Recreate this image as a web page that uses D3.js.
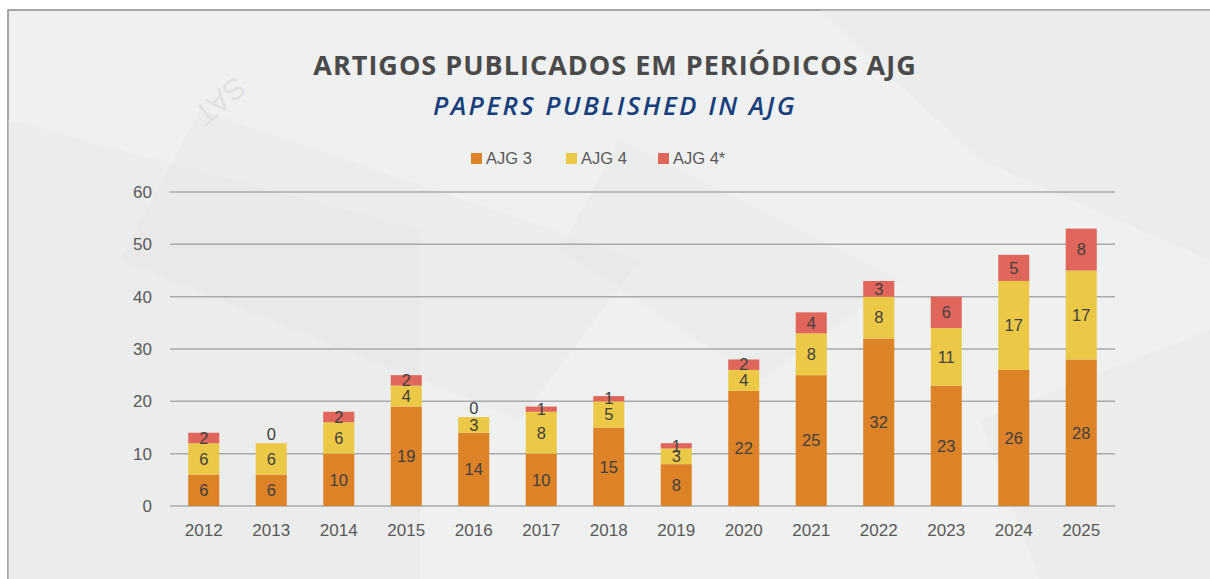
<!DOCTYPE html>
<html>
<head>
<meta charset="utf-8">
<script src="https://cdn.jsdelivr.net/npm/d3@7"></script>
<style>
  html, body { margin: 0; padding: 0; background: #fff; }
  svg { display: block; }
</style>
</head>
<body>
<div id="chart"></div>
<script>
// dados
const anos = ["2012","2013","2014","2015","2016","2017","2018","2019","2020","2021","2022","2023","2024","2025"];
const ajg3 = [6, 6, 10, 19, 14, 10, 15, 8, 22, 25, 32, 23, 26, 28];
const ajg4 = [6, 6, 6, 4, 3, 8, 5, 3, 4, 8, 8, 11, 17, 17];
const ajg4star = [2, 0, 2, 2, 0, 1, 1, 1, 2, 4, 3, 6, 5, 8];
const seriesNames = ["AJG 3", "AJG 4", "AJG 4*"];
const yTicks = [0, 10, 20, 30, 40, 50, 60];
const colors = ["#dd8227", "#ebc947", "#e0655a"];

const W = 1210, H = 579;
const FONT = "Liberation Sans, Arial, sans-serif";
const svg = d3.select("#chart").append("svg")
    .attr("width", W)
    .attr("height", H);

// --- FUNDO ---
const bg = svg.append("g");
bg.append("rect")
    .attr("x", 8).attr("y", 10)
    .attr("width", W).attr("height", H)
    .attr("fill", "#eff0f0")
    .attr("stroke", "#8a8a8a")
    .attr("stroke-width", 1.5);

// formas difusas (papeis ao fundo)
const shapes = [
    "M8,120 L420,230 L420,580 L8,580 Z",
    "M200,110 L640,260 L520,420 L120,260 Z",
    "M820,10 L1210,10 L1210,260 L980,160 Z",
    "M620,140 L900,280 L760,380 L560,250 Z",
    "M980,420 L1210,330 L1210,580 L1040,580 Z"
];
bg.selectAll("path.bgshape")
    .data(shapes)
    .enter()
    .append("path")
    .attr("class", "bgshape")
    .attr("d", d => d)
    .attr("fill", "#e5e6e6")
    .attr("opacity", 0.4);
bg.append("text")
    .attr("transform", "translate(235,75) rotate(140)")
    .attr("font-family", FONT)
    .attr("font-size", 30)
    .attr("fill", "#e0e1e1")
    .text("SAT");

// --- TITULOS ---
svg.append("text")
    .attr("x", 615).attr("y", 75)
    .attr("text-anchor", "middle")
    .attr("font-family", "Open Sans, sans-serif")
    .attr("font-weight", 700)
    .attr("font-size", 27)
    .attr("letter-spacing", 1)
    .attr("fill", "#4a4a4a")
    .text("ARTIGOS PUBLICADOS EM PERIÓDICOS AJG");

svg.append("text")
    .attr("x", 615).attr("y", 115)
    .attr("text-anchor", "middle")
    .attr("font-family", "Open Sans, sans-serif")
    .attr("font-weight", 600)
    .attr("font-style", "italic")
    .attr("font-size", 26)
    .attr("letter-spacing", 2.4)
    .attr("fill", "#173f7c")
    .text("PAPERS PUBLISHED IN AJG");

// --- LEGENDA ---
const legendX = [471, 566, 658];
const legend = svg.append("g");
seriesNames.forEach((name, i) => {
    const g = legend.append("g").attr("transform", `translate(${legendX[i]},153)`);
    g.append("rect").attr("width", 11).attr("height", 11).attr("fill", colors[i]);
    g.append("text")
        .attr("x", 15).attr("y", 11)
        .attr("font-family", FONT)
        .attr("font-size", 16.5)
        .attr("fill", "#595959")
        .text(name);
});

// --- ESCALAS ---
const plotLeft = 170, plotRight = 1115, plotTop = 192, plotBottom = 506;
const x = d3.scaleBand().domain(anos).range([plotLeft, plotRight]).paddingInner(0.54).paddingOuter(0.27);
const y = d3.scaleLinear().domain([0, 60]).range([plotBottom, plotTop]);

// grade
svg.append("g")
    .selectAll("line")
    .data(yTicks)
    .enter()
    .append("line")
    .attr("x1", plotLeft).attr("x2", plotRight)
    .attr("y1", d => y(d)).attr("y2", d => y(d))
    .attr("stroke", "#a9aaad")
    .attr("stroke-width", 1.5);

// eixo Y
const yAxis = svg.append("g")
    .attr("transform", `translate(${plotLeft},0)`)
    .call(d3.axisLeft(y).tickValues(yTicks).tickSize(0).tickPadding(18));
yAxis.select(".domain").remove();
yAxis.selectAll("text")
    .attr("font-family", FONT)
    .attr("font-size", 17)
    .attr("fill", "#595959");

// eixo X
const xAxis = svg.append("g")
    .attr("transform", `translate(0,${plotBottom})`)
    .call(d3.axisBottom(x).tickSize(0).tickPadding(18));
xAxis.select(".domain").remove();
xAxis.selectAll("text")
    .attr("font-family", FONT)
    .attr("font-size", 17)
    .attr("fill", "#595959");

// --- BARRAS EMPILHADAS ---
const table = anos.map((a, i) => ({ ano: a, s0: ajg3[i], s1: ajg4[i], s2: ajg4star[i] }));
const stack = d3.stack().keys(["s0", "s1", "s2"])(table);

const layers = svg.append("g")
    .selectAll("g")
    .data(stack)
    .enter()
    .append("g")
    .attr("fill", (d, i) => colors[i]);

layers.selectAll("rect")
    .data(d => d)
    .enter()
    .append("rect")
    .attr("x", d => x(d.data.ano))
    .attr("width", x.bandwidth())
    .attr("y", d => y(d[1]))
    .attr("height", d => y(d[0]) - y(d[1]));

// rotulos (valor zero fica logo acima da barra)
const labels = svg.append("g");
stack.forEach(layer => {
    labels.selectAll(null)
        .data(layer)
        .enter()
        .append("text")
        .attr("x", d => x(d.data.ano) + x.bandwidth() / 2)
        .attr("y", d => (d[1] - d[0]) === 0 ? y(d[1]) - 9 : (y(d[0]) + y(d[1])) / 2)
        .attr("dy", "0.35em")
        .attr("text-anchor", "middle")
        .attr("font-family", FONT)
        .attr("font-size", 16.5)
        .attr("fill", "#404040")
        .text(d => d[1] - d[0]);
});
</script>
</body>
</html>
